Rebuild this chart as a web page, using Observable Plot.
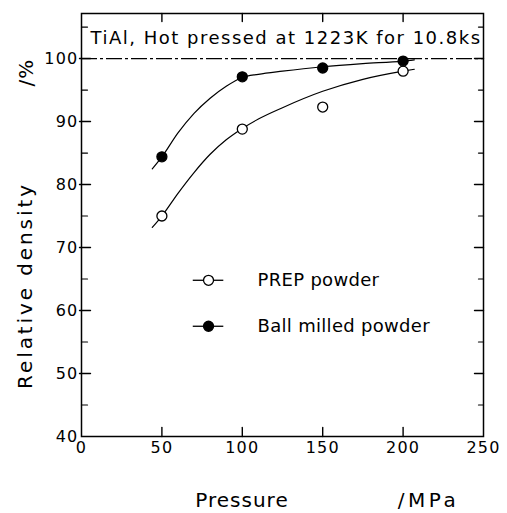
<!DOCTYPE html>
<html>
<head>
<meta charset="utf-8">
<script src="https://cdn.jsdelivr.net/npm/d3@7"></script>
<script src="https://cdn.jsdelivr.net/npm/@observablehq/plot@0.6"></script>
<style>
  html, body { margin: 0; padding: 0; background: #fff; }
  svg { display: block; }
</style>
</head>
<body>
<div id="chart"></div>
<script>
// ---- data ----
const pressure = [50, 100, 150, 200];
const prepDensity = [75.0, 88.8, 92.3, 98.0];
const ballDensity = [84.4, 97.1, 98.5, 99.6];

// fitted curves
const curvePressure = [44, 50, 60, 70, 80, 90, 100, 110, 125, 150, 175, 200, 207];
const prepCurve = [73.2, 75.0, 78.6, 81.9, 84.8, 87.1, 88.9, 90.4, 92.2, 94.8, 96.7, 98.0, 98.3];
const ballCurve = [82.5, 84.4, 88.2, 91.3, 93.7, 95.6, 97.0, 97.5, 98.0, 98.7, 99.2, 99.6, 99.8];

const xTicks = [0, 50, 100, 150, 200, 250];
const yTicks = [40, 50, 60, 70, 80, 90, 100];
const yMinorTicks = [45, 55, 65, 75, 85, 95, 105];
const xInnerTicks = [50, 100, 150, 200];
const fullDensity = [100];

const titleText = "TiAl, Hot pressed at 1223K for 10.8ks";
const seriesNames = ["PREP powder", "Ball milled powder"];
const yLabel = "Relative density";
const yUnit = "/%";
const xLabel = "Pressure";
const xUnit = "/MPa";

// ---- tables built from the arrays ----
const points = pressure.flatMap((p, i) => [
  {p, d: prepDensity[i], s: seriesNames[0]},
  {p, d: ballDensity[i], s: seriesNames[1]}
]);
const curves = curvePressure.flatMap((p, i) => [
  {p, d: prepCurve[i], s: seriesNames[0]},
  {p, d: ballCurve[i], s: seriesNames[1]}
]);

// legend layout (in data space)
const legendX = 79, legendLineHalf = 9.5, legendTextX = 109.5;
const legendY = [64.8, 57.5];
const legend = seriesNames.map((s, i) => ({s, y: legendY[i]}));

const FONT = "'DejaVu Sans', sans-serif";
const tickShape = {draw(ctx, l) { ctx.moveTo(0, 0); ctx.lineTo(0, -l); }};
const fillFor = s => s === seriesNames[0] ? "white" : "black";
const Y_TOP = 107.15;

const chart = Plot.plot({
  width: 507,
  height: 513,
  marginLeft: 81,
  marginRight: 24,
  marginTop: 13,
  marginBottom: 77,
  style: {fontFamily: FONT, fontSize: "16px", color: "black", background: "white"},
  x: {domain: [0, 250]},
  y: {domain: [40, Y_TOP]},
  marks: [
    Plot.frame({stroke: "black", strokeWidth: 1.5}),
    // dash-dot 100% line
    Plot.ruleY(fullDensity, {stroke: "black", strokeWidth: 1.2, strokeDasharray: "16,3,3,3"}),
    // axis labels
    Plot.axisX({ticks: xTicks, tickSize: 0, tickPadding: 5, label: null, fontSize: 16}),
    Plot.axisY({ticks: yTicks, tickSize: 0, tickPadding: 3, label: null, fontSize: 16}),
    // ticks: left major (crossing), left minor
    Plot.vector(yTicks.slice(1), {x: 0, y: d => d, length: 11, dx: -2, rotate: 90, anchor: "start", shape: tickShape, strokeWidth: 1.4}),
    Plot.vector(yMinorTicks, {x: 0, y: d => d, length: 6, rotate: 90, anchor: "start", shape: tickShape, strokeWidth: 1.2}),
    // right major & minor
    Plot.vector(yTicks.slice(1), {x: 250, y: d => d, length: 9, rotate: -90, anchor: "start", shape: tickShape, strokeWidth: 1.4}),
    Plot.vector(yMinorTicks, {x: 250, y: d => d, length: 5, rotate: -90, anchor: "start", shape: tickShape, strokeWidth: 1.2}),
    // bottom & top ticks
    Plot.vector(xInnerTicks, {x: d => d, y: 40, length: 9, rotate: 0, anchor: "start", shape: tickShape, strokeWidth: 1.4}),
    Plot.vector(xInnerTicks, {x: d => d, y: Y_TOP, length: 8, rotate: 180, anchor: "start", shape: tickShape, strokeWidth: 1.4}),
    // curves
    Plot.line(curves, {x: "p", y: "d", z: "s", curve: "monotone-x", stroke: "black", strokeWidth: 1.2}),
    // data points
    Plot.dot(points, {x: "p", y: "d", r: 5, stroke: "black", strokeWidth: 1.3, fill: d => fillFor(d.s)}),
    // legend
    Plot.ruleY(legend, {y: "y", x1: legendX - legendLineHalf, x2: legendX + legendLineHalf, stroke: "black", strokeWidth: 1.3}),
    Plot.dot(legend, {x: legendX, y: "y", r: 5, stroke: "black", strokeWidth: 1.3, fill: d => fillFor(d.s)}),
    Plot.text(legend, {x: legendTextX, y: "y", text: "s", textAnchor: "start", lineAnchor: "middle", fontSize: 18, ariaDescription: "legendtext"}),
    // title inside frame
    Plot.text([titleText], {frameAnchor: "top-left", dx: 9, dy: 25, textAnchor: "start", lineAnchor: "middle", fontSize: 18, ariaDescription: "titletext"}),
    // axis titles
    Plot.text([yLabel], {frameAnchor: "left", dx: -56, dy: 60.5, rotate: -90, textAnchor: "middle", lineAnchor: "middle", fontSize: 20, ariaDescription: "ytitle"}),
    Plot.text([yUnit], {frameAnchor: "top-left", dx: -55, dy: 59, rotate: -90, textAnchor: "middle", lineAnchor: "middle", fontSize: 20, ariaDescription: "yunit"}),
    Plot.text([xLabel], {frameAnchor: "bottom-left", dx: 160.5, dy: 64, textAnchor: "middle", lineAnchor: "middle", fontSize: 20, ariaDescription: "xtitle"}),
    Plot.text([xUnit], {frameAnchor: "bottom-left", dx: 347, dy: 64, textAnchor: "middle", lineAnchor: "middle", fontSize: 20, ariaDescription: "xunit"})
  ]
});

const svg = d3.select(chart);
const spacing = (name, v) => svg.selectAll(`g[aria-description='${name}'] text`).style("letter-spacing", v);
spacing("titletext", "1.5px");
spacing("legendtext", "0.3px");
spacing("ytitle", "2.9px");
spacing("yunit", "1px");
spacing("xtitle", "1px");
spacing("xunit", "3.5px");
svg.selectAll("g[aria-label='x-axis tick label'] text, g[aria-label='y-axis tick label'] text").style("letter-spacing", "1.2px");

document.getElementById("chart").appendChild(chart);
</script>
</body>
</html>
